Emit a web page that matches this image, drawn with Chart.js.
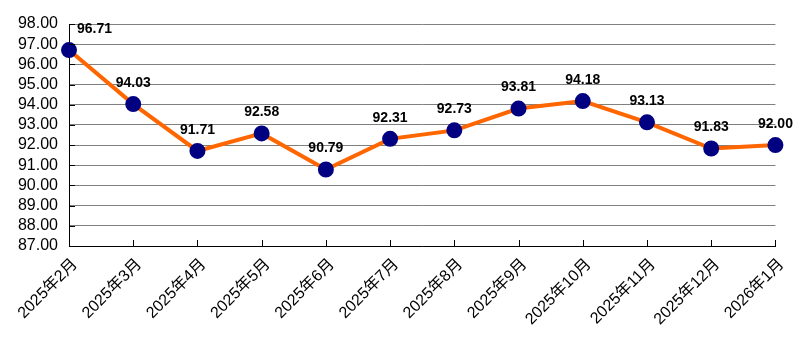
<!DOCTYPE html>
<html>
<head>
<meta charset="utf-8">
<script src="https://cdn.jsdelivr.net/npm/chart.js@4/dist/chart.umd.min.js"></script>
<style>
  html, body { margin: 0; padding: 0; background: #fff; }
  #wrap { width: 798px; height: 338px; }
</style>
</head>
<body>
<div id="wrap"><canvas id="myChart" width="798" height="338"></canvas></div>
<script>
// monthly index values
var months = ['2025年2月', '2025年3月', '2025年4月', '2025年5月', '2025年6月', '2025年7月',
              '2025年8月', '2025年9月', '2025年10月', '2025年11月', '2025年12月', '2026年1月']
var values = [96.71, 94.03, 91.71, 92.58, 90.79, 92.31, 92.73, 93.81, 94.18, 93.13, 91.83, 92.00]
var yMin = 87
var yMax = 98
var yStep = 1

var fontFamily = "Arial, 'Liberation Sans', 'Noto Sans CJK SC', sans-serif"

// short tick marks pointing into the plot area
var innerTicks = {
  id: 'innerTicks',
  afterDraw: function(chart) {
    var ctx = chart.ctx
    var area = chart.chartArea
    var x = chart.scales.x
    var y = chart.scales.y
    ctx.save()
    ctx.strokeStyle = '#000'
    ctx.lineWidth = 1
    ctx.beginPath()
    for (var i = 1; i < months.length; i++) {
      var px = Math.round(x.getPixelForValue(i)) + 0.5
      ctx.moveTo(px, area.bottom)
      ctx.lineTo(px, area.bottom - 6)
    }
    y.ticks.forEach(function(t) {
      var py = Math.round(y.getPixelForValue(t.value)) + 0.5
      ctx.moveTo(area.left, py)
      ctx.lineTo(area.left + 6, py)
    })
    ctx.stroke()
    ctx.restore()
  }
}

// value labels above each point
var valueLabels = {
  id: 'valueLabels',
  afterDatasetsDraw: function(chart) {
    var ctx = chart.ctx
    var area = chart.chartArea
    var pts = chart.getDatasetMeta(0).data
    ctx.save()
    ctx.font = 'bold 14px ' + fontFamily
    ctx.fillStyle = '#000'
    ctx.textAlign = 'center'
    ctx.textBaseline = 'middle'
    pts.forEach(function(p, i) {
      var txt = values[i].toFixed(2)
      var w = ctx.measureText(txt).width
      var lx = p.x
      if (lx - w / 2 < area.left) lx = area.left + w / 2 + 8
      ctx.fillText(txt, lx, p.y - 21)
    })
    ctx.restore()
  }
}

var ctx = document.getElementById('myChart').getContext('2d')
var chartOne = new Chart(ctx, {
  type: 'line',
  data: {
    labels: months,
    datasets: [{
      data: values,
      borderColor: '#FF6600',
      borderWidth: 4,
      backgroundColor: '#000080',
      pointBackgroundColor: '#000080',
      pointBorderColor: '#000080',
      pointRadius: 6,
      pointHoverRadius: 6,
      tension: 0,
      clip: false
    }]
  },
  options: {
    responsive: false,
    animation: false,
    events: [],
    layout: { padding: { top: 24, right: 21, left: 0, bottom: 0 } },
    plugins: {
      legend: { display: false },
      tooltip: { enabled: false }
    },
    scales: {
      x: {
        offset: false,
        grid: { drawOnChartArea: false, drawTicks: false },
        border: { color: '#000', width: 1 },
        ticks: {
          color: '#000',
          font: { family: fontFamily, size: 16 },
          minRotation: 45,
          maxRotation: 45,
          padding: 9,
          labelOffset: 6,
          autoSkip: false
        },
        afterFit: function(s) { s.height = 92 }
      },
      y: {
        min: yMin,
        max: yMax,
        grid: { color: '#808080', lineWidth: 1, drawTicks: false },
        border: { color: '#000', width: 1 },
        ticks: {
          stepSize: yStep,
          autoSkip: false,
          color: '#000',
          font: { family: fontFamily, size: 16 },
          padding: 11,
          callback: function(v) { return Number(v).toFixed(2) }
        },
        afterFit: function(s) { s.width = 69 }
      }
    }
  },
  plugins: [innerTicks, valueLabels]
})
</script>
</body>
</html>
